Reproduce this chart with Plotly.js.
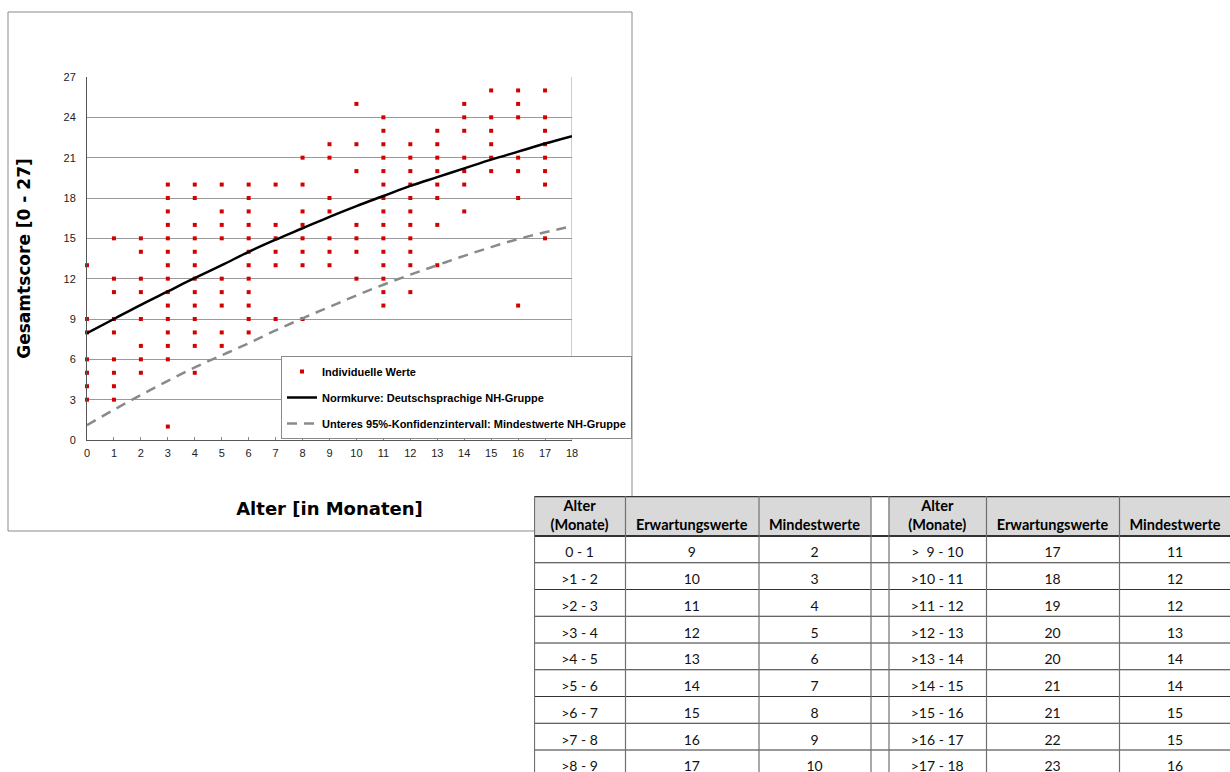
<!DOCTYPE html>
<html><head><meta charset="utf-8">
<script src="https://cdn.plot.ly/plotly-3.0.1.min.js"></script>
<style>html,body{margin:0;padding:0;overflow:hidden;background:#fff}</style>
</head><body>
<div id="chart" style="width:1230px;height:800px"></div>
<script>
// ---- data ----
const months = [0,1,2,3,4,5,6,7,8,9,10,11,12,13,14,15,16,17,18];
const individualScores = [
  [13,9,8,6,5,4,3],
  [15,12,11,9,8,6,5,4,3],
  [15,14,12,11,9,7,6,5],
  [19,18,17,16,15,14,13,12,11,10,9,8,7,6,1],
  [19,18,16,15,14,13,12,11,10,9,8,7,5],
  [19,17,16,15,12,11,10,8,7],
  [19,18,17,16,15,14,13,12,11,10,9,8],
  [19,16,15,14,13,9],
  [21,19,17,16,15,14,13,9],
  [22,21,18,17,15,14,13],
  [25,22,20,16,15,14,12],
  [24,23,22,21,20,19,18,17,16,15,14,13,12,11,10],
  [22,21,20,19,18,17,16,15,14,13,11],
  [23,22,21,20,19,18,16,13],
  [25,24,23,21,20,19,17],
  [26,24,23,22,21,20],
  [26,25,24,21,20,18,10],
  [26,24,23,22,21,20,19,15]
];
const normCurve  = [7.95,9.0,10.05,11.05,12.05,13.0,14.0,14.9,15.75,16.6,17.4,18.15,18.9,19.55,20.2,20.85,21.45,22.05,22.6];
const lowerCurve = [1.1,2.25,3.35,4.4,5.4,6.3,7.2,8.15,9.05,9.9,10.75,11.55,12.3,13.0,13.7,14.35,14.95,15.45,15.9];
const yTicks = [0,3,6,9,12,15,18,21,24,27];

const tableHeader = ["Alter<br>(Monate)", "Erwartungswerte", "Mindestwerte", "", "Alter<br>(Monate)", "Erwartungswerte", "Mindestwerte"];
const ageRanges1 = ["0 - 1", ">1 - 2", ">2 - 3", ">3 - 4", ">4 - 5", ">5 - 6", ">6 - 7", ">7 - 8", ">8 - 9"];
const expected1  = [9,10,11,12,13,14,15,16,17];
const minimum1   = [2,3,4,5,6,7,8,9,10];
const ageRanges2 = [">\u00a0 9 - 10", ">10 - 11", ">11 - 12", ">12 - 13", ">13 - 14", ">14 - 15", ">15 - 16", ">16 - 17", ">17 - 18"];
const expected2  = [17,18,19,20,20,21,21,22,23];
const minimum2   = [11,12,12,13,14,14,15,15,16];
const spacer     = ["","","","","","","","",""];
const tableColumns = [ageRanges1, expected1, minimum1, spacer, ageRanges2, expected2, minimum2];

// ---- layout constants (pixels) ----
const W = 1230, H = 800;
const px = x => x / W, py = y => 1 - y / H;
const TX0 = 534, TY0 = 496;                       // table origin
const colEdges = [0, 91, 224.5, 336.5, 354.5, 452, 585, 697];
const headH = 40, rowH = 26.75, nRows = ageRanges1.length;
const tableHpx = H - TY0;

// ---- build ----
const ptsX = [], ptsY = [];
individualScores.forEach((arr, i) => arr.forEach(v => { ptsX.push(months[i]); ptsY.push(v); }));

const tickFont = {family: "Liberation Sans, Arial, sans-serif", size: 11, color: "#222"};
const cellFont = {family: "Lato, Noto Sans, sans-serif", size: 14, color: "#111"};
const headFont = {family: "Lato, Noto Sans, sans-serif", size: 14.5, color: "#000", weight: "bold"};

const traces = [
  {type: "scatter", mode: "markers", x: ptsX, y: ptsY, name: "Individuelle Werte",
   legendgroup: "a", cliponaxis: false, marker: {symbol: "square", size: 4, color: "#d40000"}},
  {type: "scatter", mode: "lines", x: months, y: normCurve, name: "Normkurve: Deutschsprachige NH-Gruppe",
   legendgroup: "b", line: {color: "#000", width: 2.5, shape: "spline"}},
  {type: "scatter", mode: "lines", x: months, y: lowerCurve, name: "Unteres 95%-Konfidenzintervall: Mindestwerte NH-Gruppe",
   legendgroup: "c", line: {color: "#8a8a8a", width: 2.5, dash: "10px,7px", shape: "spline"}}
];

const centers = colEdges.slice(0, -1).map((e, i) => (e + colEdges[i + 1]) / 2);
// header texts
tableHeader.forEach((h, c) => {
  if (!h) return;
  const twoLine = h.indexOf("<br>") >= 0;
  traces.push({type: "scatter", mode: "text", xaxis: "x2", yaxis: "y2", showlegend: false, hoverinfo: "skip",
    x: [centers[c]], y: [twoLine ? 20.5 : 30], text: [h], textposition: "middle center", textfont: headFont});
});
// body texts
tableColumns.forEach((col, c) => {
  if (col === spacer) return;
  traces.push({type: "scatter", mode: "text", xaxis: "x2", yaxis: "y2", showlegend: false, hoverinfo: "skip",
    cliponaxis: false,
    x: col.map(() => centers[c]), y: col.map((_, r) => headH + (r + 0.5) * rowH + 4.5),
    text: col.map(String), textposition: "middle center", textfont: cellFont});
});

const shapes = [
  {type: "rect", xref: "paper", yref: "paper", x0: px(8), x1: px(632), y0: py(531), y1: py(12),
   line: {color: "#8a8a8a", width: 1}, layer: "below"},
  {type: "line", xref: "x", yref: "y", x0: 18, x1: 18, y0: 0, y1: 27,
   line: {color: "#9a9a9a", width: 1}, layer: "below"},
  {type: "rect", xref: "paper", yref: "paper", x0: px(TX0), x1: 1, y0: 0, y1: py(TY0),
   fillcolor: "#fff", line: {width: 0}, layer: "below"}
];
// header fills
for (let c = 0; c < centers.length; c++) {
  if (!tableHeader[c]) continue;
  shapes.push({type: "rect", xref: "x2", yref: "y2", x0: colEdges[c], x1: colEdges[c + 1], y0: 0, y1: headH,
    fillcolor: "#d9d9d9", line: {width: 0}, layer: "below"});
}
// horizontal lines
shapes.push({type: "line", xref: "x2", yref: "y2", x0: 0, x1: colEdges[colEdges.length - 1], y0: 0.5, y1: 0.5,
  line: {color: "#333", width: 1.5}});
for (let r = 0; r <= nRows; r++) {
  const y = headH + r * rowH;
  shapes.push({type: "line", xref: "x2", yref: "y2", x0: 0, x1: colEdges[colEdges.length - 1], y0: y, y1: y,
    line: {color: "#333", width: r === 0 ? 2 : 1}});
}
// vertical lines
colEdges.forEach(e => shapes.push({type: "line", xref: "x2", yref: "y2", x0: e + 0.5, x1: e + 0.5, y0: 0, y1: tableHpx,
  line: {color: "#707070", width: 1.2}}));

const layout = {
  width: W, height: H,
  margin: {l: 0, r: 0, t: 0, b: 0},
  paper_bgcolor: "#fff", plot_bgcolor: "rgba(0,0,0,0)",
  showlegend: true,
  legend: {x: px(281), y: py(356), xanchor: "left", yanchor: "top",
    bgcolor: "#fff", bordercolor: "#8a8a8a", borderwidth: 1, tracegroupgap: 7,
    font: {family: "Liberation Sans, Arial, sans-serif", size: 11, color: "#000", weight: "bold"}},
  xaxis: {domain: [px(87), px(572)], range: [0, 18], dtick: 1, tick0: 0,
    showgrid: false, zeroline: false, showline: true, linecolor: "#555", linewidth: 1,
    ticks: "inside", ticklen: 3, tickcolor: "#888", tickfont: tickFont, ticklabelstandoff: 3,
    fixedrange: true,
    title: {text: "Alter [in Monaten]\u00a0\u00a0\u00a0", standoff: 44,
      font: {family: "DejaVu Sans, sans-serif", size: 18, color: "#000", weight: "bold"}}},
  yaxis: {domain: [py(440), py(77)], range: [0, 27], tickvals: yTicks,
    showgrid: true, gridcolor: "#9a9a9a", gridwidth: 1, zeroline: false,
    showline: true, linecolor: "#555", linewidth: 1, ticks: "", tickfont: tickFont, ticklabelstandoff: 8,
    fixedrange: true,
    title: {text: "\u00a0\u00a0\u00a0Gesamtscore [0 - 27]", standoff: 28,
      font: {family: "DejaVu Sans, sans-serif", size: 17, color: "#000", weight: "bold"}}},
  xaxis2: {domain: [px(TX0), 1], range: [0, W - TX0], visible: false, fixedrange: true},
  yaxis2: {domain: [0, py(TY0)], range: [tableHpx, 0], visible: false, fixedrange: true},
  shapes: shapes
};

Plotly.newPlot("chart", traces, layout, {displayModeBar: false, staticPlot: true});
</script>
</body></html>
